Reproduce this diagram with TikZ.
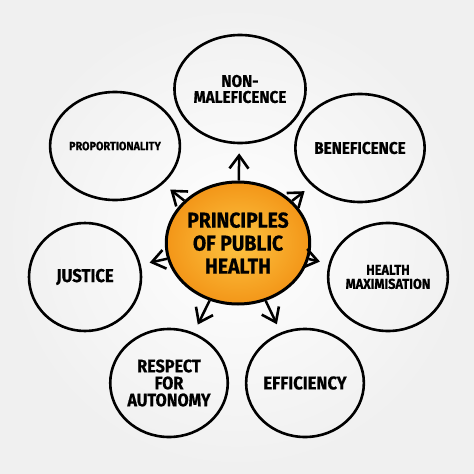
\documentclass[tikz,border=0pt]{standalone}
\usepackage{fontspec}
\setmainfont{Fira Sans}[BoldFeatures={FakeBold=0.6,FakeStretch=0.9}]
\usetikzlibrary{arrows.meta,shapes.geometric}
\definecolor{orin}{RGB}{253,196,66}
\definecolor{orout}{RGB}{243,150,24}
\begin{document}
\begin{tikzpicture}[x=1pt,y=-1pt,
  outer/.style={draw=black, line width=2.6pt, ellipse, minimum width=112pt,
    minimum height=108pt, inner sep=0pt, align=center},
  hub/.style={draw=black, line width=3pt, ellipse, minimum width=130pt,
    minimum height=122pt, inner sep=0pt, align=center,
    inner color=orin, outer color=orout},
  arr/.style={line width=2.5pt, shorten >=9pt,
    -{Straight Barb[length=13pt,width=19pt,line width=2.6pt]}}
]
\shade[inner color=white, outer color=black!6] (0,0) rectangle (474,474);
\useasboundingbox (0,0) rectangle (474,474);

\node[hub, font=\bfseries\fontsize{21.5}{23}\selectfont] (c) at (238,243) {PRINCIPLES\\OF PUBLIC\\HEALTH};

\node[outer, font=\bfseries\fontsize{17}{16}\selectfont] (nm) at (240,89) {NON-\\MALEFICENCE};
\node[outer, font=\bfseries\fontsize{17}{17}\selectfont] (be) at (360,148) {BENEFICENCE};
\node[outer, font=\bfseries\fontsize{14.2}{14}\selectfont] (hm) at (388,277) {HEALTH\\MAXIMISATION};
\node[outer, font=\bfseries\fontsize{18.5}{18.5}\selectfont] (ef) at (305,383) {EFFICIENCY};
\node[outer, font=\bfseries\fontsize{18}{17}\selectfont] (ra) at (169,383) {RESPECT\\FOR\\AUTONOMY};
\node[outer, font=\bfseries\fontsize{18.5}{18.5}\selectfont] (ju) at (85,277) {JUSTICE};
\node[outer, font=\bfseries\fontsize{12}{12}\selectfont] (pr) at (115,146) {PROPORTIONALITY};

\foreach \t in {nm,be,hm,ef,ra,ju,pr}
  \draw[arr] (c) -- (\t);
\end{tikzpicture}
\end{document}
